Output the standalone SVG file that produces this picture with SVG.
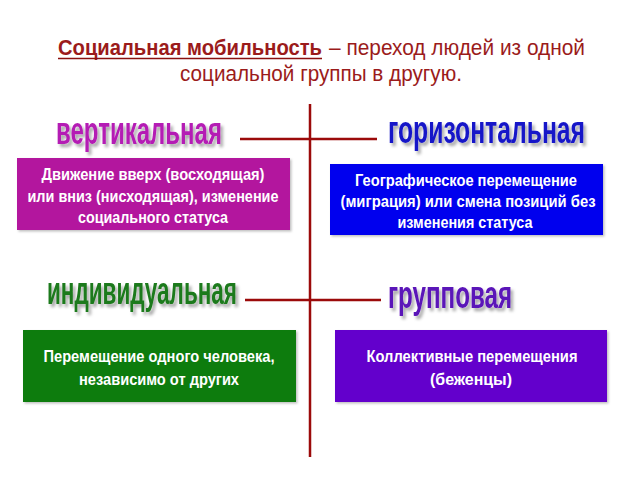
<svg xmlns="http://www.w3.org/2000/svg" width="640" height="480" viewBox="0 0 640 480">
<defs>
<filter id="sh" filterUnits="userSpaceOnUse" x="-700" y="-500" width="2000" height="1500">
<feDropShadow dx="2.5" dy="2.4" stdDeviation="1.4" flood-color="#000" flood-opacity="0.35"/>
</filter>
<filter id="bs" filterUnits="userSpaceOnUse" x="0" y="0" width="640" height="480">
<feDropShadow dx="1.5" dy="1.5" stdDeviation="1" flood-color="#000" flood-opacity="0.25"/>
</filter>
</defs>
<style>
text{font-family:"Liberation Sans Narrow","Liberation Sans",Arial,sans-serif}
.t{fill:#9b1b1b;font-size:22px}
.h{font-size:30px;font-weight:bold;filter:url(#sh)}
.b{fill:#fff;font-size:16px;font-weight:bold;text-anchor:middle}
.ln{stroke:#9b0a0a;stroke-width:2.5;fill:none}
</style>
<rect width="640" height="480" fill="#fff"/>
<g id="title">
<text class="t" x="58" y="55" font-weight="bold" textLength="264" lengthAdjust="spacingAndGlyphs" fill="#8b1010">Социальная мобильность</text>
<line x1="58" y1="58.5" x2="322" y2="58.5" stroke="#8b1010" stroke-width="1.6"/>
<text class="t" x="329" y="55" textLength="256" lengthAdjust="spacingAndGlyphs">– переход людей из одной</text>
<text class="t" x="180" y="81" textLength="282" lengthAdjust="spacingAndGlyphs">социальной группы в другую.</text>
</g>
<g id="connectors">
<line class="ln" x1="310" y1="104" x2="310" y2="457"/>
<line class="ln" x1="240" y1="139" x2="377" y2="139"/>
<line class="ln" x1="245" y1="300" x2="381" y2="300"/>
</g>
<g id="vertical">
<text class="h" transform="translate(56,144) scale(1,1.3)" fill="#b41eb4" textLength="166" lengthAdjust="spacingAndGlyphs">вертикальная</text>
<rect x="17" y="158" width="273" height="72" fill="#b3129e" filter="url(#bs)"/>
<text class="b" x="153" y="180" textLength="223" lengthAdjust="spacingAndGlyphs">Движение вверх (восходящая)</text>
<text class="b" x="153" y="202" textLength="251" lengthAdjust="spacingAndGlyphs">или вниз (нисходящая), изменение</text>
<text class="b" x="153" y="223" textLength="150" lengthAdjust="spacingAndGlyphs">социального статуса</text>
</g>
<g id="horizontal">
<text class="h" transform="translate(388,143) scale(1,1.3)" fill="#1616c8" textLength="197" lengthAdjust="spacingAndGlyphs">горизонтальная</text>
<rect x="330" y="164" width="273" height="71" fill="#0000ee" filter="url(#bs)"/>
<text class="b" x="466" y="186" textLength="222" lengthAdjust="spacingAndGlyphs">Географическое перемещение</text>
<text class="b" x="468" y="207" textLength="255" lengthAdjust="spacingAndGlyphs">(миграция) или смена позиций  без</text>
<text class="b" x="465" y="228" textLength="135" lengthAdjust="spacingAndGlyphs">изменения статуса</text>
</g>
<g id="individual">
<text class="h" transform="translate(47,304) scale(1,1.3)" fill="#1e7a1e" textLength="190" lengthAdjust="spacingAndGlyphs">индивидуальная</text>
<rect x="23" y="330" width="273" height="72" fill="#0b7b0b" filter="url(#bs)"/>
<text class="b" x="159" y="362" textLength="231" lengthAdjust="spacingAndGlyphs">Перемещение одного человека,</text>
<text class="b" x="159" y="385" textLength="160" lengthAdjust="spacingAndGlyphs">независимо от других</text>
</g>
<g id="group">
<text class="h" transform="translate(388,308) scale(1,1.3)" fill="#5a12b8" textLength="124" lengthAdjust="spacingAndGlyphs">групповая</text>
<rect x="335" y="330" width="272" height="72" fill="#6300cc" filter="url(#bs)"/>
<text class="b" x="472" y="362" textLength="211" lengthAdjust="spacingAndGlyphs">Коллективные перемещения</text>
<text class="b" x="471" y="385" textLength="82" lengthAdjust="spacingAndGlyphs">(беженцы)</text>
</g>
</svg>
